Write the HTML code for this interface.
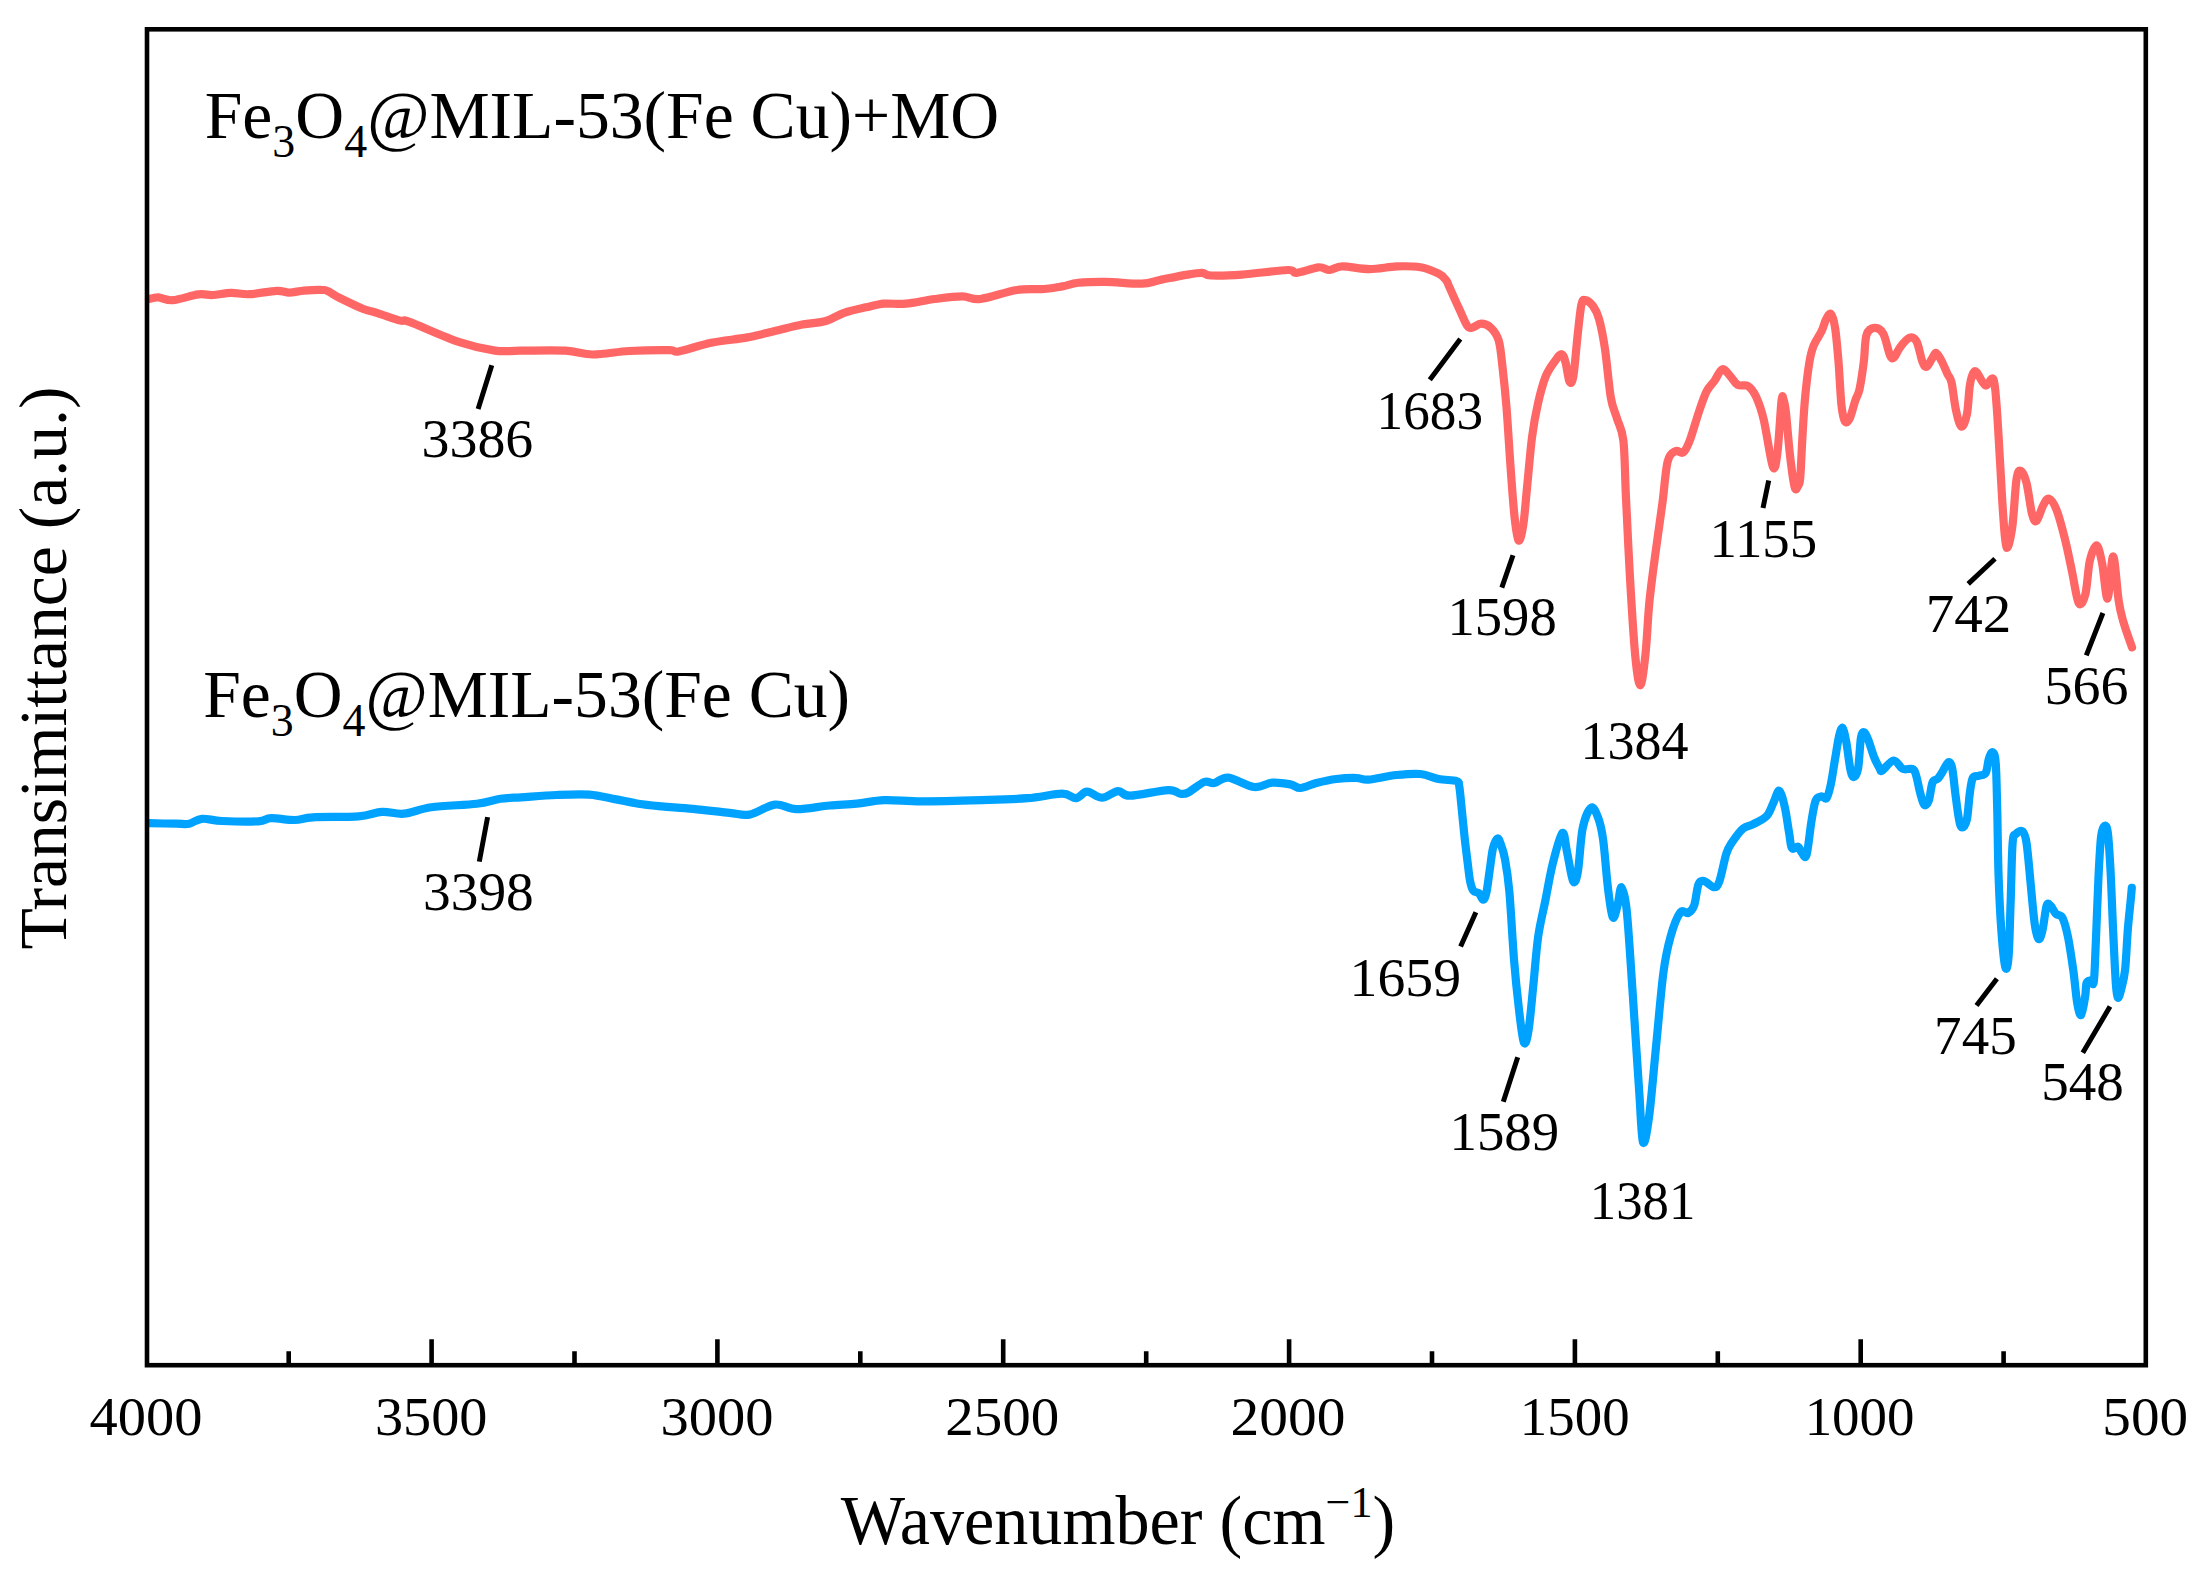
<!DOCTYPE html><html><head><meta charset="utf-8"><title>FTIR spectra</title><style>html,body{margin:0;padding:0;background:#fff;overflow:hidden;}svg{display:block;}</style></head><body>
<svg width="2197" height="1577" viewBox="0 0 2197 1577">
<rect width="2197" height="1577" fill="#fff"/>
<path d="M149.0 299.1C150.5 298.8 154.2 297.1 158.2 297.3C162.2 297.5 166.1 300.7 172.8 300.2C179.5 299.7 191.6 295.3 198.3 294.4C205.0 293.5 207.4 295.3 212.8 295.0C218.2 294.7 224.9 292.9 231.0 292.8C237.1 292.7 241.6 294.5 249.2 294.2C256.8 293.9 269.8 291.1 276.5 290.8C283.2 290.5 284.7 292.6 289.3 292.6C293.9 292.6 298.4 291.0 303.9 290.6C309.3 290.2 318.1 289.9 322.0 290.0C325.9 290.1 324.4 289.6 327.5 291.0C330.6 292.4 334.2 295.2 340.3 298.2C346.4 301.2 357.9 306.8 364.0 309.2C370.1 311.6 370.6 310.9 376.7 312.8C382.8 314.7 394.9 319.1 400.4 320.6C405.9 322.1 399.8 318.3 409.5 321.9C419.2 325.4 444.4 337.1 458.6 341.9C472.9 346.7 484.8 349.1 495.0 350.6C505.2 352.1 508.2 350.7 520.0 350.7C531.8 350.7 553.4 350.1 565.5 350.7C577.6 351.3 582.2 354.4 592.8 354.5C603.4 354.6 616.5 351.7 629.2 351.0C642.0 350.3 661.1 350.0 669.3 350.1C677.5 350.2 671.4 352.7 678.4 351.5C685.4 350.3 699.7 345.2 711.2 342.8C722.7 340.4 737.0 339.4 747.6 337.4C758.2 335.4 765.8 333.1 774.9 331.0C784.0 328.9 793.7 326.3 802.2 324.6C810.7 322.9 818.9 323.0 825.9 321.0C832.9 319.0 837.4 315.1 844.1 312.8C850.8 310.5 859.2 308.8 865.9 307.3C872.6 305.8 877.4 304.3 884.1 303.7C890.8 303.1 897.5 304.5 906.0 303.7C914.5 302.9 925.5 300.2 934.9 299.0C944.3 297.8 954.6 296.4 962.2 296.4C969.8 296.4 971.3 300.1 980.4 299.0C989.5 297.9 1006.2 291.7 1016.8 290.0C1027.4 288.3 1036.4 289.6 1044.0 289.0C1051.6 288.4 1056.6 287.4 1062.3 286.4C1068.0 285.4 1071.0 283.6 1078.2 282.8C1085.4 282.1 1094.9 281.8 1105.5 281.9C1116.1 282.0 1132.8 284.0 1141.9 283.7C1151.0 283.4 1152.4 281.5 1160.0 280.0C1167.6 278.5 1180.4 275.8 1187.4 274.6C1194.4 273.4 1198.1 272.7 1202.0 272.8C1205.9 272.9 1204.3 275.2 1211.0 275.5C1217.7 275.8 1229.2 275.5 1242.0 274.6C1254.8 273.7 1278.5 270.3 1287.6 270.0C1296.7 269.7 1291.5 273.2 1296.7 272.8C1301.9 272.4 1313.0 267.8 1318.5 267.3C1324.0 266.8 1325.5 270.1 1329.5 270.0C1333.5 269.9 1335.5 266.5 1342.2 266.4C1348.9 266.2 1360.4 269.1 1369.5 269.1C1378.6 269.1 1388.3 266.7 1396.8 266.4C1405.3 266.1 1413.5 266.1 1420.5 267.3C1427.5 268.5 1434.5 271.6 1438.7 273.7C1443.0 275.8 1444.2 277.7 1446.0 280.0C1447.8 282.3 1447.3 282.6 1449.5 287.4C1451.7 292.2 1456.3 302.6 1459.3 309.0C1462.2 315.4 1465.1 322.6 1467.2 325.7C1469.3 328.8 1469.8 328.0 1472.1 327.7C1474.4 327.4 1477.9 323.7 1481.0 323.7C1484.1 323.7 1487.8 324.9 1490.8 327.7C1493.8 330.5 1496.7 333.8 1498.7 340.5C1500.7 347.2 1501.3 356.9 1502.6 368.0C1503.9 379.1 1505.2 390.9 1506.5 407.3C1507.8 423.7 1509.2 448.3 1510.5 466.3C1511.8 484.3 1513.1 503.1 1514.4 515.5C1515.7 527.9 1517.0 538.9 1518.5 540.5C1520.0 542.1 1521.8 534.4 1523.2 525.3C1524.7 516.2 1525.7 500.8 1527.2 486.0C1528.7 471.2 1530.3 450.6 1532.1 436.8C1533.9 423.0 1535.7 413.5 1538.0 403.4C1540.3 393.2 1543.0 383.1 1545.9 375.9C1548.9 368.7 1553.1 363.7 1555.7 360.1C1558.3 356.5 1560.0 353.9 1561.6 354.2C1563.2 354.5 1564.2 357.5 1565.5 362.1C1566.8 366.7 1568.2 379.5 1569.5 381.8C1570.8 384.1 1572.1 383.1 1573.4 375.9C1574.7 368.7 1576.0 350.3 1577.3 338.5C1578.6 326.7 1580.0 311.5 1581.3 305.1C1582.6 298.7 1583.2 300.0 1585.2 300.1C1587.2 300.2 1590.7 302.9 1593.0 306.0C1595.3 309.1 1597.0 311.8 1599.0 318.8C1601.0 325.9 1602.9 335.2 1604.9 348.3C1606.9 361.4 1608.8 385.8 1610.8 397.5C1612.8 409.2 1614.9 411.3 1617.0 418.5C1619.1 425.7 1621.9 427.6 1623.4 440.8C1624.9 454.1 1624.9 475.5 1626.0 498.0C1627.1 520.5 1628.4 550.0 1629.9 576.0C1631.4 602.0 1633.4 635.9 1635.1 654.1C1636.8 672.3 1638.6 685.3 1640.3 685.3C1642.0 685.3 1644.0 668.0 1645.5 654.1C1647.0 640.2 1647.7 619.4 1649.4 602.0C1651.1 584.6 1653.7 566.5 1655.9 550.0C1658.1 533.5 1660.5 518.0 1662.4 503.3C1664.4 488.6 1665.4 470.4 1667.6 461.7C1669.8 453.0 1672.8 452.7 1675.4 451.2C1678.0 449.7 1680.8 454.2 1683.2 452.5C1685.6 450.8 1687.1 447.5 1689.7 440.8C1692.3 434.1 1696.0 420.4 1698.8 412.2C1701.6 404.0 1704.0 396.6 1706.6 391.4C1709.2 386.2 1711.8 384.7 1714.4 381.0C1717.0 377.3 1719.6 370.2 1722.2 369.3C1724.8 368.4 1727.4 373.2 1730.0 375.8C1732.6 378.4 1734.8 383.2 1737.8 384.9C1740.8 386.6 1745.2 384.2 1748.2 386.2C1751.2 388.1 1753.4 391.0 1756.0 396.6C1758.6 402.2 1761.0 408.3 1763.8 420.0C1766.6 431.7 1770.6 461.5 1772.9 466.8C1775.2 472.1 1776.1 463.0 1777.5 452.0C1778.9 441.0 1780.5 409.8 1781.5 401.0C1782.5 392.2 1782.8 397.5 1783.5 399.5C1784.2 401.5 1785.0 404.0 1786.0 413.0C1787.0 422.0 1788.4 441.1 1789.8 453.4C1791.2 465.7 1793.2 481.5 1794.6 486.9C1796.0 492.3 1797.1 487.4 1798.0 486.0C1798.9 484.6 1799.5 486.2 1800.2 478.5C1800.9 470.8 1801.5 453.0 1802.3 439.5C1803.1 426.0 1803.9 410.4 1805.1 397.6C1806.3 384.8 1807.9 371.4 1809.3 362.8C1810.7 354.2 1811.4 351.4 1813.5 346.0C1815.6 340.6 1819.7 335.1 1821.8 330.7C1823.9 326.3 1824.5 322.3 1826.0 319.5C1827.5 316.7 1829.4 312.6 1830.9 314.0C1832.4 315.4 1833.8 319.8 1835.1 327.9C1836.4 336.0 1837.5 350.0 1838.6 362.8C1839.6 375.6 1840.4 394.9 1841.4 404.6C1842.5 414.4 1843.5 419.0 1844.9 421.3C1846.3 423.6 1848.0 422.0 1849.7 418.5C1851.4 415.0 1853.7 405.3 1855.3 400.4C1856.9 395.5 1858.1 395.6 1859.5 389.3C1860.9 383.0 1862.5 371.9 1863.7 362.8C1864.9 353.7 1864.7 340.7 1866.5 334.9C1868.3 329.1 1872.0 328.1 1874.8 327.9C1877.6 327.7 1880.6 328.9 1883.2 333.5C1885.8 338.1 1888.3 351.9 1890.2 355.8C1892.1 359.8 1892.8 358.6 1894.4 357.2C1896.0 355.8 1897.5 350.6 1900.0 347.4C1902.5 344.1 1906.9 338.6 1909.7 337.7C1912.5 336.8 1914.6 337.9 1916.7 341.8C1918.8 345.8 1920.7 357.2 1922.3 361.4C1923.9 365.6 1924.8 367.4 1926.4 366.9C1928.0 366.4 1930.4 360.9 1932.0 358.6C1933.6 356.3 1934.6 352.5 1936.2 353.0C1937.8 353.5 1939.9 357.9 1941.8 361.4C1943.7 364.9 1945.8 370.4 1947.4 373.9C1949.0 377.4 1950.1 376.5 1951.5 382.3C1952.9 388.1 1954.1 401.4 1955.7 408.8C1957.3 416.2 1959.4 425.6 1961.3 426.5C1963.2 427.4 1965.5 421.1 1966.9 414.4C1968.3 407.7 1968.7 393.3 1969.7 386.5C1970.7 379.7 1971.8 375.9 1973.0 373.5C1974.2 371.1 1974.5 370.2 1976.6 372.2C1978.7 374.2 1982.7 384.4 1985.5 385.5C1988.3 386.6 1991.5 375.6 1993.3 378.9C1995.1 382.2 1995.5 391.8 1996.6 405.5C1997.7 419.2 1998.9 442.5 2000.0 461.0C2001.1 479.5 2002.2 502.1 2003.3 516.5C2004.4 530.9 2005.1 545.8 2006.6 547.6C2008.1 549.5 2010.5 539.1 2012.2 527.6C2013.9 516.1 2015.1 488.1 2016.6 478.7C2018.1 469.3 2019.3 470.2 2021.0 471.0C2022.7 471.8 2024.8 476.0 2026.6 483.2C2028.4 490.4 2030.4 508.0 2032.1 514.3C2033.8 520.6 2034.8 522.4 2036.6 520.9C2038.4 519.4 2041.2 509.1 2043.2 505.4C2045.2 501.7 2046.6 498.0 2048.8 498.7C2051.0 499.4 2053.7 502.8 2056.5 509.8C2059.3 516.8 2062.8 530.5 2065.4 540.9C2068.0 551.3 2069.9 561.6 2072.1 572.0C2074.3 582.4 2076.5 599.4 2078.7 603.1C2080.9 606.8 2083.6 601.2 2085.4 594.2C2087.2 587.2 2088.0 569.0 2089.8 560.9C2091.7 552.8 2094.4 544.9 2096.5 545.3C2098.6 545.7 2100.2 554.2 2102.1 563.1C2103.9 572.0 2105.8 599.7 2107.6 598.6C2109.4 597.5 2111.3 556.0 2113.2 556.4C2115.0 556.8 2117.0 590.1 2118.7 600.8C2120.3 611.5 2120.9 613.0 2123.1 620.8C2125.3 628.6 2130.5 643.0 2132.0 647.4" fill="none" stroke="#FF6666" stroke-width="8.2" stroke-linejoin="round" stroke-linecap="round"/>
<path d="M149.0 823.2C153.6 823.3 169.7 823.6 176.4 823.7C183.1 823.8 184.9 824.5 189.2 823.7C193.4 822.9 196.4 819.2 201.9 818.8C207.4 818.3 212.5 820.6 221.9 821.0C231.3 821.4 250.1 821.8 258.3 821.3C266.5 820.8 265.0 818.4 271.1 818.2C277.2 818.0 287.8 820.1 294.8 820.0C301.8 819.9 302.4 817.9 313.0 817.3C323.6 816.7 347.0 817.3 358.5 816.4C370.0 815.5 374.5 812.3 382.1 811.9C389.7 811.5 395.8 814.5 404.0 813.7C412.2 812.9 419.2 809.0 431.3 807.3C443.4 805.6 465.3 805.1 476.8 803.7C488.3 802.3 493.1 799.9 500.5 798.8C507.9 797.7 511.7 797.9 521.0 797.3C530.3 796.7 545.0 795.5 556.4 795.0C567.8 794.5 579.5 793.9 589.2 794.6C598.9 795.3 606.5 797.6 614.7 799.1C622.9 800.6 630.4 802.5 638.3 803.7C646.2 804.9 652.9 805.5 662.0 806.4C671.1 807.2 681.8 807.7 693.0 808.8C704.2 809.9 720.0 811.8 729.4 812.8C738.8 813.8 741.8 816.0 749.4 814.6C757.0 813.2 767.0 805.5 774.9 804.6C782.8 803.7 787.6 809.1 796.7 809.2C805.8 809.4 819.5 806.4 829.5 805.5C839.5 804.6 847.7 804.6 856.8 803.7C865.9 802.8 873.3 800.5 884.1 800.1C894.9 799.7 905.5 801.3 921.8 801.3C938.1 801.3 964.3 800.6 981.9 800.1C999.5 799.6 1014.1 799.3 1027.4 798.2C1040.8 797.1 1053.9 793.7 1062.0 793.7C1070.1 793.7 1071.8 798.4 1076.0 798.1C1080.2 797.8 1082.7 791.8 1087.0 791.7C1091.3 791.6 1096.9 797.8 1102.1 797.7C1107.3 797.6 1113.4 791.4 1118.1 791.1C1122.8 790.8 1121.8 795.9 1130.1 795.7C1138.4 795.5 1159.8 790.4 1168.2 790.1C1176.6 789.8 1176.9 793.3 1180.2 793.7C1183.5 794.1 1184.2 794.5 1188.2 792.5C1192.2 790.5 1199.9 783.6 1204.2 782.0C1208.5 780.4 1210.2 783.7 1214.2 783.0C1218.2 782.3 1221.6 776.9 1228.3 777.6C1235.0 778.3 1247.0 786.2 1254.3 787.0C1261.6 787.8 1266.3 783.0 1272.3 782.6C1278.3 782.2 1285.7 783.5 1290.4 784.4C1295.1 785.3 1296.1 788.2 1300.4 788.0C1304.7 787.8 1310.4 784.5 1316.4 783.0C1322.4 781.5 1329.7 779.8 1336.4 779.0C1343.1 778.2 1351.1 777.9 1356.4 778.0C1361.8 778.1 1361.8 780.1 1368.5 779.6C1375.2 779.1 1387.8 775.9 1396.5 775.0C1405.2 774.1 1413.5 773.3 1420.5 774.0C1427.5 774.7 1432.6 777.8 1438.6 779.0C1444.6 780.2 1453.2 779.8 1456.6 781.0C1460.0 782.2 1458.4 782.1 1459.2 786.0C1460.0 789.9 1460.4 796.0 1461.3 804.6C1462.2 813.2 1463.5 827.4 1464.6 837.4C1465.7 847.4 1467.0 857.4 1467.9 864.7C1468.8 872.0 1469.2 876.7 1470.1 881.1C1471.0 885.5 1472.0 888.9 1473.4 890.9C1474.9 892.9 1477.2 891.6 1478.8 893.1C1480.4 894.6 1481.9 899.9 1483.2 899.7C1484.5 899.5 1485.4 896.9 1486.5 892.0C1487.6 887.1 1488.6 877.5 1489.7 870.2C1490.8 862.9 1491.7 853.6 1493.0 848.3C1494.3 843.0 1496.1 839.2 1497.4 838.5C1498.7 837.8 1499.4 840.5 1500.7 844.0C1502.0 847.5 1503.5 851.2 1505.0 859.2C1506.5 867.2 1507.9 875.1 1509.4 892.0C1510.9 908.9 1512.5 941.1 1514.1 960.6C1515.7 980.1 1517.3 995.1 1518.9 1008.8C1520.5 1022.4 1522.3 1038.9 1523.9 1042.5C1525.5 1046.1 1526.9 1040.1 1528.5 1030.5C1530.1 1020.9 1531.8 1000.4 1533.4 984.7C1535.0 969.0 1536.2 950.5 1538.2 936.5C1540.2 922.5 1543.0 912.4 1545.4 900.4C1547.8 888.4 1549.8 875.5 1552.6 864.3C1555.4 853.1 1559.9 835.0 1562.3 833.0C1564.7 831.0 1565.3 844.3 1567.1 852.3C1568.9 860.3 1571.3 878.0 1573.1 881.2C1574.9 884.4 1576.3 880.3 1577.9 871.5C1579.5 862.7 1580.5 838.8 1582.7 828.2C1584.9 817.6 1588.6 809.3 1591.2 807.7C1593.8 806.1 1596.4 813.1 1598.4 818.5C1600.4 823.9 1601.6 828.6 1603.2 840.2C1604.8 851.9 1606.4 875.5 1608.0 888.4C1609.6 901.2 1611.2 914.5 1612.8 917.3C1614.4 920.1 1616.2 910.2 1617.6 905.2C1619.0 900.2 1619.9 887.2 1621.3 887.2C1622.7 887.2 1624.7 895.0 1626.1 905.2C1627.5 915.4 1628.3 929.3 1629.7 948.6C1631.1 967.9 1632.9 996.7 1634.5 1020.8C1636.1 1044.9 1637.9 1072.8 1639.3 1093.1C1640.7 1113.3 1641.4 1138.3 1643.0 1142.3C1644.6 1146.3 1646.8 1133.4 1649.0 1117.2C1651.2 1101.0 1653.8 1069.0 1656.2 1044.9C1658.6 1020.8 1661.0 990.8 1663.4 972.7C1665.8 954.6 1667.8 946.5 1670.6 936.5C1673.4 926.5 1677.4 916.4 1680.3 912.5C1683.2 908.6 1685.7 914.2 1688.0 913.0C1690.3 911.8 1692.5 910.1 1694.2 905.3C1695.9 900.5 1696.8 888.5 1698.4 884.4C1700.0 880.3 1701.5 880.4 1704.0 880.9C1706.5 881.4 1711.2 887.1 1713.7 887.2C1716.2 887.3 1717.2 887.2 1719.3 881.6C1721.4 876.0 1724.2 860.2 1726.3 853.7C1728.4 847.2 1729.1 846.8 1731.9 842.6C1734.7 838.4 1739.5 831.6 1743.0 828.6C1746.5 825.6 1748.8 826.5 1752.8 824.4C1756.8 822.3 1763.2 819.7 1766.7 816.0C1770.2 812.3 1771.6 806.3 1773.7 802.1C1775.8 797.9 1777.4 790.0 1779.3 790.9C1781.2 791.8 1783.3 800.7 1784.9 807.7C1786.5 814.7 1787.9 826.1 1789.1 832.8C1790.3 839.5 1790.4 845.8 1791.9 848.1C1793.4 850.4 1796.5 846.0 1798.1 846.7C1799.7 847.4 1800.2 850.9 1801.6 852.3C1803.0 853.7 1804.9 860.2 1806.5 855.1C1808.1 850.0 1809.9 830.7 1811.4 821.6C1812.9 812.5 1814.0 804.9 1815.6 800.7C1817.2 796.5 1819.3 797.0 1821.2 796.5C1823.1 796.0 1825.1 800.0 1826.7 797.9C1828.3 795.8 1829.5 790.5 1830.9 784.0C1832.3 777.5 1833.7 766.9 1835.1 758.8C1836.5 750.6 1838.0 740.2 1839.3 735.1C1840.6 730.0 1841.6 726.9 1842.8 728.1C1844.0 729.3 1845.0 735.1 1846.3 742.1C1847.6 749.1 1849.2 764.2 1850.5 770.0C1851.8 775.8 1852.6 777.2 1853.9 777.0C1855.2 776.8 1856.9 775.1 1858.1 768.6C1859.3 762.1 1859.9 744.0 1860.9 737.9C1862.0 731.8 1863.1 731.8 1864.4 732.3C1865.7 732.8 1867.0 736.5 1868.6 740.7C1870.2 744.9 1872.3 752.8 1874.2 757.4C1876.1 762.0 1878.5 766.4 1879.8 768.6C1881.1 770.8 1880.0 771.8 1882.3 770.4C1884.6 769.0 1890.3 760.8 1893.7 760.5C1897.1 760.2 1899.8 767.5 1902.8 768.9C1905.8 770.3 1909.8 768.0 1912.0 768.9C1914.2 769.8 1914.4 770.1 1915.8 774.2C1917.2 778.3 1918.9 788.2 1920.3 793.3C1921.7 798.4 1922.7 803.4 1924.1 804.7C1925.5 806.0 1927.3 804.6 1928.7 800.9C1930.1 797.2 1931.0 786.3 1932.5 782.6C1934.0 778.9 1936.1 780.6 1937.8 778.8C1939.5 777.0 1940.6 774.8 1942.4 772.0C1944.2 769.2 1946.8 762.6 1948.5 762.1C1950.2 761.6 1951.2 763.7 1952.3 768.9C1953.4 774.1 1954.2 784.8 1955.3 793.3C1956.4 801.8 1957.9 814.2 1959.1 819.9C1960.2 825.6 1960.9 827.5 1962.2 827.5C1963.5 827.5 1965.5 825.6 1966.8 819.9C1968.1 814.2 1968.8 800.3 1969.8 793.3C1970.8 786.3 1971.3 780.9 1972.8 778.0C1974.3 775.1 1976.7 776.7 1978.9 775.8C1981.1 774.9 1984.2 775.5 1985.8 772.7C1987.4 769.9 1987.7 762.4 1988.8 759.0C1989.9 755.6 1991.4 751.6 1992.6 752.2C1993.8 752.8 1994.9 753.4 1995.7 762.8C1996.5 772.2 1996.7 789.5 1997.2 808.5C1997.7 827.5 1997.9 856.4 1998.6 876.6C1999.3 896.8 2000.2 914.7 2001.3 929.8C2002.4 944.9 2004.1 962.7 2005.3 967.1C2006.5 971.5 2007.7 967.0 2008.6 956.4C2009.5 945.8 2009.9 922.1 2010.6 903.2C2011.3 884.4 2011.7 854.8 2012.6 843.3C2013.5 831.8 2014.2 836.0 2015.9 834.0C2017.6 832.0 2020.8 829.8 2022.6 831.3C2024.4 832.8 2025.3 834.6 2026.6 843.3C2027.9 851.9 2029.3 869.9 2030.6 883.2C2031.9 896.5 2033.3 913.9 2034.6 923.2C2035.9 932.5 2037.3 938.0 2038.6 939.1C2039.9 940.2 2041.3 935.3 2042.6 929.8C2043.9 924.2 2045.3 909.8 2046.6 905.8C2047.9 901.8 2049.0 904.5 2050.6 905.8C2052.2 907.1 2053.9 911.8 2055.9 913.8C2057.9 915.8 2060.5 914.0 2062.5 917.8C2064.5 921.6 2066.1 927.9 2067.9 936.5C2069.7 945.1 2071.6 958.6 2073.2 969.7C2074.8 980.8 2075.9 995.5 2077.2 1003.0C2078.5 1010.5 2079.9 1016.1 2081.2 1015.0C2082.5 1013.9 2084.3 1001.7 2085.2 996.4C2086.1 991.1 2085.6 985.8 2086.5 983.1C2087.4 980.4 2089.3 980.6 2090.5 980.4C2091.7 980.2 2092.9 987.9 2093.8 981.7C2094.7 975.5 2095.0 960.6 2095.8 943.1C2096.6 925.6 2097.6 894.4 2098.5 876.6C2099.4 858.9 2100.1 845.0 2101.1 836.6C2102.1 828.2 2103.4 826.7 2104.5 826.0C2105.6 825.3 2106.8 825.3 2107.8 832.6C2108.8 839.9 2109.6 853.7 2110.5 869.9C2111.4 886.1 2112.2 910.9 2113.1 929.8C2114.0 948.7 2115.0 971.8 2115.8 983.1C2116.6 994.4 2116.9 996.6 2117.8 997.7C2118.7 998.8 2119.9 994.4 2121.1 989.7C2122.3 985.0 2124.0 979.7 2125.1 969.7C2126.2 959.7 2126.9 940.9 2127.8 929.8C2128.7 918.7 2129.7 910.2 2130.4 903.2C2131.1 896.2 2131.6 890.5 2131.8 887.9" fill="none" stroke="#00A2FF" stroke-width="8.2" stroke-linejoin="round" stroke-linecap="round"/>
<rect x="147.0" y="29.3" width="1998.8" height="1335.9" fill="none" stroke="#000" stroke-width="4.6"/>
<path d="M2003.6 1365.2V1351.2M1860.7 1365.2V1339.2M1717.8 1365.2V1351.2M1574.9 1365.2V1339.2M1432.0 1365.2V1351.2M1289.1 1365.2V1339.2M1146.2 1365.2V1351.2M1003.2 1365.2V1339.2M860.3 1365.2V1351.2M717.4 1365.2V1339.2M574.5 1365.2V1351.2M431.6 1365.2V1339.2M288.7 1365.2V1351.2" stroke="#000" stroke-width="4.6" fill="none"/>
<path d="M491.8 365.2L478.1 409.0M1460.3 339.1L1429.8 379.7M1513.0 555.2L1501.8 587.6M1768.7 480.5L1763.0 508.0M1995.0 558.8L1968.2 583.9M2102.9 613.0L2086.3 655.3M487.6 817.1L479.3 861.6M1475.9 912.2L1460.6 946.5M1517.7 1057.3L1503.3 1101.8M1996.9 978.8L1976.5 1005.5M2110.0 1006.6L2082.8 1052.7" stroke="#000" stroke-width="5" stroke-linecap="butt" fill="none"/>
<g font-family="'Liberation Serif', 'Times New Roman', serif" fill="#000">
<text transform="translate(204.72 138.30) scale(0.9875 1)" font-size="68.5">Fe<tspan font-size="46.5" dy="18.6">3</tspan><tspan dy="-18.6">O</tspan><tspan font-size="46.5" dy="18.6">4</tspan><tspan dy="-18.6">@MIL-53(Fe Cu)+MO</tspan></text>
<text transform="translate(203.22 717.00) scale(0.9868 1)" font-size="68.5">Fe<tspan font-size="46.5" dy="18.6">3</tspan><tspan dy="-18.6">O</tspan><tspan font-size="46.5" dy="18.6">4</tspan><tspan dy="-18.6">@MIL-53(Fe Cu)</tspan></text>
<text transform="translate(840.81 1544.20) scale(0.9810 1)" font-size="69.5">Wavenumber (cm<tspan font-size="45" dy="-27.5">&#8722;1</tspan><tspan dy="27.5">)</tspan></text>
<text transform="translate(66.10 949.48) rotate(-90) scale(0.9876 1)" font-size="68.5">Transimittance (a.u.)</text>
<text transform="translate(89.58 1435.30) scale(1.0176 1)" font-size="55.5">4000</text>
<text transform="translate(374.96 1435.30) scale(1.0142 1)" font-size="55.5">3500</text>
<text transform="translate(660.54 1435.30) scale(1.0180 1)" font-size="55.5">3000</text>
<text transform="translate(945.13 1435.30) scale(1.0274 1)" font-size="55.5">2500</text>
<text transform="translate(1230.50 1435.30) scale(1.0350 1)" font-size="55.5">2000</text>
<text transform="translate(1519.85 1435.30) scale(0.9885 1)" font-size="55.5">1500</text>
<text transform="translate(1804.65 1435.30) scale(0.9894 1)" font-size="55.5">1000</text>
<text transform="translate(2102.30 1435.30) scale(1.0309 1)" font-size="55.5">500</text>
<text transform="translate(421.48 457.30) scale(1.0075 1)" font-size="55.5">3386</text>
<text transform="translate(1376.59 429.40) scale(0.9591 1)" font-size="55.5">1683</text>
<text transform="translate(1447.47 635.30) scale(0.9848 1)" font-size="55.5">1598</text>
<text transform="translate(1580.52 759.10) scale(0.9734 1)" font-size="55.5">1384</text>
<text transform="translate(1709.55 556.50) scale(0.9884 1)" font-size="55.5">1155</text>
<text transform="translate(1925.69 632.40) scale(1.0287 1)" font-size="55.5">742</text>
<text transform="translate(2044.46 704.30) scale(1.0104 1)" font-size="55.5">566</text>
<text transform="translate(423.01 910.30) scale(0.9981 1)" font-size="55.5">3398</text>
<text transform="translate(1349.57 996.10) scale(1.0040 1)" font-size="55.5">1659</text>
<text transform="translate(1449.45 1149.70) scale(0.9885 1)" font-size="55.5">1589</text>
<text transform="translate(1589.87 1218.60) scale(0.9500 1)" font-size="55.5">1381</text>
<text transform="translate(1934.12 1053.70) scale(0.9924 1)" font-size="55.5">745</text>
<text transform="translate(2041.22 1100.30) scale(0.9926 1)" font-size="55.5">548</text>
</g>
</svg></body></html>
